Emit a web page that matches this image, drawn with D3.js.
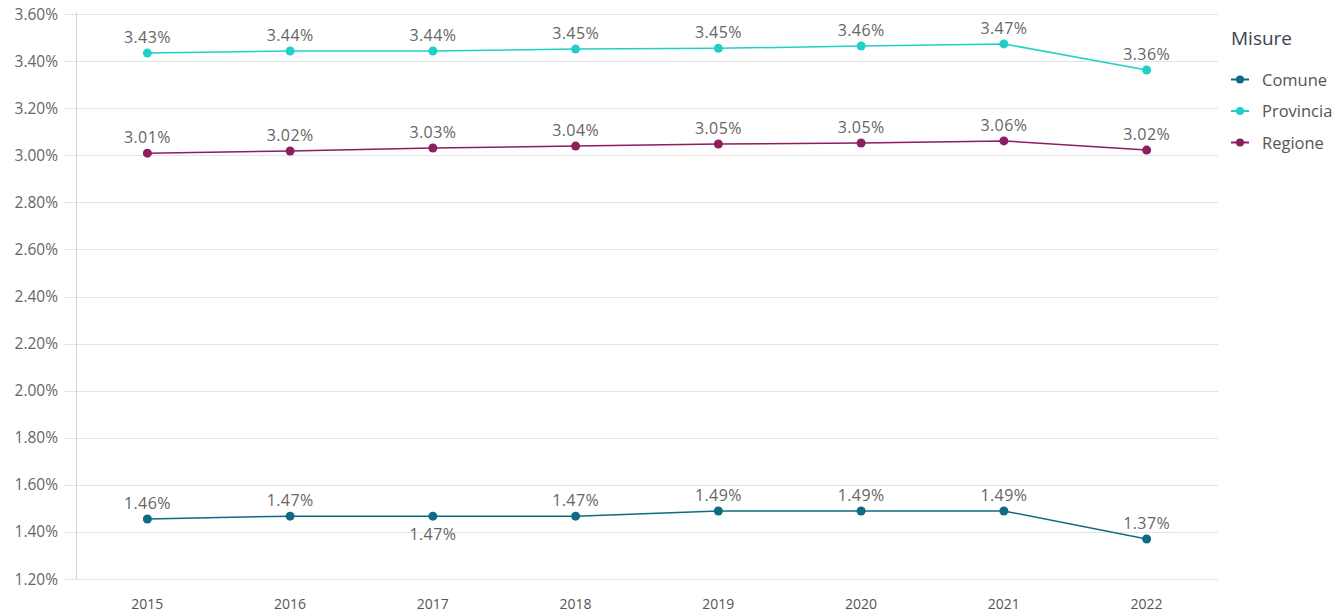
<!DOCTYPE html>
<html>
<head>
<meta charset="utf-8">
<script src="https://cdn.jsdelivr.net/npm/d3@7"></script>
<style>
  body { margin: 0; background: #fff; }
  #chart { width: 1341px; height: 613px; }
  text { font-family: "Open Sans", "Noto Sans", sans-serif; }
</style>
</head>
<body>
<div id="chart"></div>
<script>
// data
const years = ["2015", "2016", "2017", "2018", "2019", "2020", "2021", "2022"];
const comune = [1.455, 1.467, 1.467, 1.467, 1.489, 1.489, 1.489, 1.370];
const provincia = [3.434, 3.443, 3.443, 3.451, 3.454, 3.464, 3.473, 3.362];
const regione = [3.009, 3.018, 3.031, 3.039, 3.048, 3.052, 3.061, 3.022];
const yTicks = [1.2, 1.4, 1.6, 1.8, 2.0, 2.2, 2.4, 2.6, 2.8, 3.0, 3.2, 3.4, 3.6];
const seriesNames = ["Comune", "Provincia", "Regione"];
const belowLabels = { "Comune": ["2017"] };

const colors = { Comune: "#0f6b84", Provincia: "#22cfc8", Regione: "#8b1f5f" };
const series = [
  { name: "Comune", values: comune },
  { name: "Provincia", values: provincia },
  { name: "Regione", values: regione }
];

const W = 1341, H = 613;
const plotLeft = 76, plotRight = 1218, plotTop = 14, plotBottom = 579;

const svg = d3.select("#chart").append("svg")
  .attr("width", W).attr("height", H);

const x = d3.scaleBand().domain(years).range([plotLeft, plotRight]);
const y = d3.scaleLinear().domain([1.2, 3.6]).range([plotBottom, plotTop]);

// grid
svg.append("g")
  .selectAll("line")
  .data(yTicks)
  .enter().append("line")
  .attr("x1", plotLeft - 12).attr("x2", plotRight)
  .attr("y1", d => Math.round(y(d)) + 0.5).attr("y2", d => Math.round(y(d)) + 0.5)
  .attr("stroke", "#e4e4e4").attr("stroke-width", 1);

svg.append("line")
  .attr("x1", plotLeft + 0.5).attr("x2", plotLeft + 0.5)
  .attr("y1", plotTop - 2).attr("y2", plotBottom)
  .attr("stroke", "#d4d4d4");

// y labels
svg.append("g")
  .selectAll("text")
  .data(yTicks)
  .enter().append("text")
  .attr("x", 58).attr("y", d => y(d) + 5.5)
  .attr("text-anchor", "end")
  .attr("font-size", "15.5px")
  .attr("fill", "#666")
  .text(d => d3.format(".2f")(d) + "%");

// x labels
svg.append("g")
  .selectAll("text")
  .data(years)
  .enter().append("text")
  .attr("x", d => x(d) + x.bandwidth() / 2)
  .attr("y", 609)
  .attr("text-anchor", "middle")
  .attr("font-size", "14px")
  .attr("fill", "#555")
  .text(d => d);

const line = d3.line()
  .x((d, i) => x(years[i]) + x.bandwidth() / 2)
  .y(d => y(d));

series.forEach(function(s) {
  const g = svg.append("g");
  g.append("path")
    .datum(s.values)
    .attr("d", line)
    .attr("fill", "none")
    .attr("stroke", colors[s.name])
    .attr("stroke-width", 1.5);

  g.selectAll("circle")
    .data(s.values)
    .enter().append("circle")
    .attr("cx", (d, i) => x(years[i]) + x.bandwidth() / 2)
    .attr("cy", d => y(d))
    .attr("r", 4.5)
    .attr("fill", colors[s.name]);

  const below = belowLabels[s.name] || [];
  g.selectAll("text")
    .data(s.values)
    .enter().append("text")
    .attr("x", (d, i) => x(years[i]) + x.bandwidth() / 2)
    .attr("y", (d, i) => below.indexOf(years[i]) >= 0 ? y(d) + 24 : y(d) - 10)
    .attr("text-anchor", "middle")
    .attr("font-size", "16px")
    .attr("letter-spacing", "0.4px")
    .attr("fill", "#666")
    .text(d => d3.format(".2f")(d) + "%");
});

// legend
const legend = svg.append("g");
legend.append("text")
  .attr("x", 1231).attr("y", 45)
  .attr("font-size", "19px")
  .attr("fill", "#3a4452")
  .text("Misure");

const item = legend.selectAll(".item")
  .data(seriesNames)
  .enter().append("g")
  .attr("class", "item")
  .attr("transform", (d, i) => "translate(0," + (79.5 + i * 31.5) + ")");

item.append("line")
  .attr("x1", 1231).attr("x2", 1249)
  .attr("stroke", d => colors[d]).attr("stroke-width", 2);
item.append("circle")
  .attr("cx", 1240).attr("r", 4)
  .attr("fill", d => colors[d]);
item.append("text")
  .attr("x", 1262).attr("y", 6)
  .attr("font-size", "16.5px")
  .attr("fill", "#555")
  .text(d => d);
</script>
</body>
</html>
